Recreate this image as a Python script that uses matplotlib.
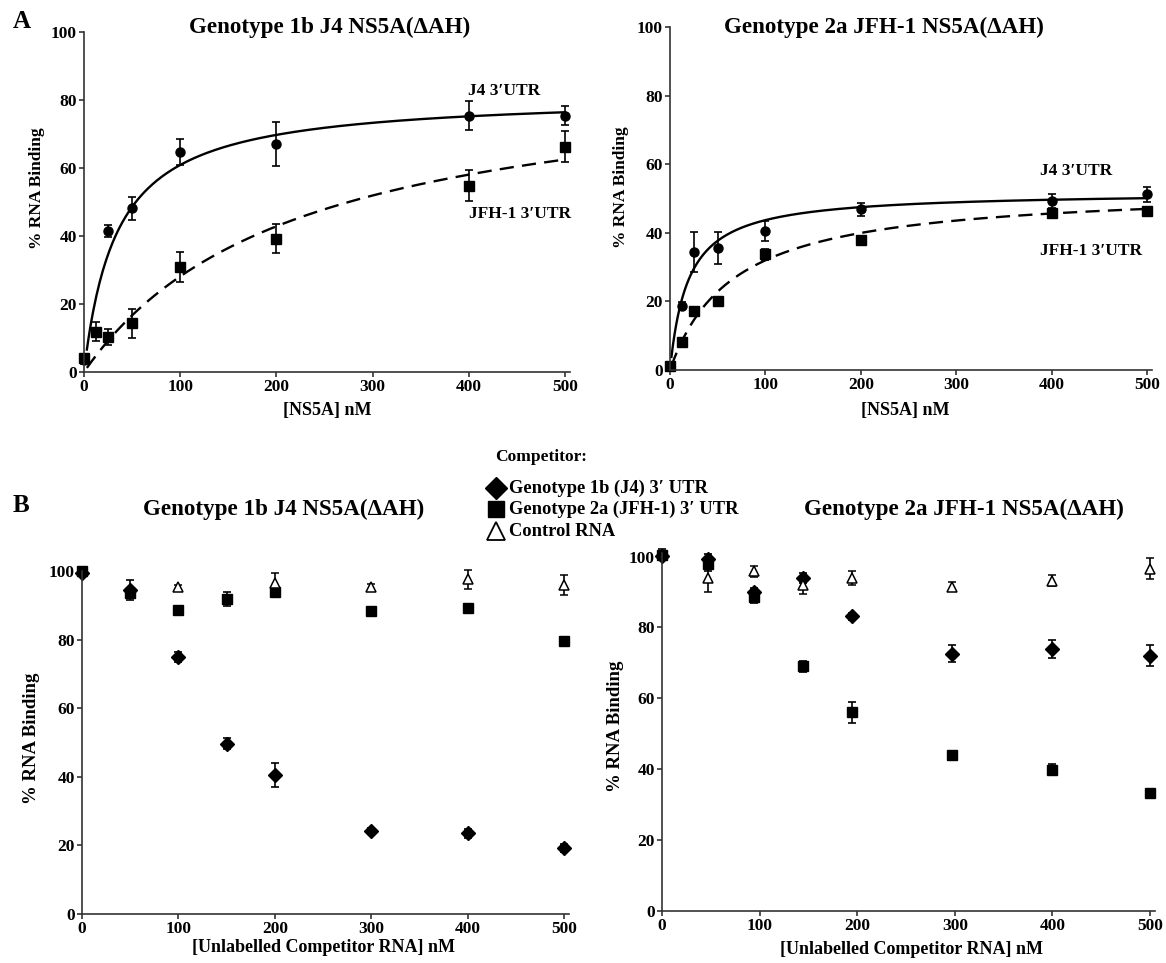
import numpy as np
import matplotlib
matplotlib.use("Agg")
import matplotlib.pyplot as plt

plt.rcParams['font.family'] = ['Liberation Serif', 'DejaVu Serif']
plt.rcParams['font.weight'] = 'bold'

W, H = 1166, 963

# ---- panel A: binding curves ----
a_title = ["Genotype 1b J4 NS5A(\u0394AH)", "Genotype 2a JFH-1 NS5A(\u0394AH)"]

# left: 1b J4 NS5A
aL_j4_x = [0, 25, 50, 100, 200, 400, 500]
aL_j4_y = [3.5, 41.5, 48.1, 64.7, 67.0, 75.4, 75.4]
aL_j4_e = [1.0, 1.7, 3.3, 3.7, 6.5, 4.3, 2.7]
aL_jfh_x = [0, 12.5, 25, 50, 100, 200, 400, 500]
aL_jfh_y = [4.0, 11.9, 10.2, 14.3, 30.9, 39.2, 54.8, 66.3]
aL_jfh_e = [1.0, 2.7, 2.4, 4.2, 4.5, 4.3, 4.5, 4.5]
aL_fit = {"j4": (81.6, 34.0), "jfh": (90.0, 220.0)}   # Bmax, Kd

# right: 2a JFH-1 NS5A
aR_j4_x = [0, 12.5, 25, 50, 100, 200, 400, 500]
aR_j4_y = [1.2, 18.7, 34.4, 35.6, 40.5, 46.8, 49.3, 51.2]
aR_j4_e = [0.8, 1.0, 5.7, 4.6, 3.0, 2.0, 2.0, 2.2]
aR_jfh_x = [0, 12.5, 25, 50, 100, 200, 400, 500]
aR_jfh_y = [1.2, 8.2, 17.1, 20.0, 33.7, 37.8, 45.9, 46.3]
aR_jfh_e = [0.5, 0.6, 1.0, 1.0, 1.5, 0.8, 1.0, 0.5]
aR_fit = {"j4": (52.0, 19.0), "jfh": (53.2, 66.3)}

# ---- panel B: competition ----
b_title = ["Genotype 1b J4 NS5A(\u0394AH)", "Genotype 2a JFH-1 NS5A(\u0394AH)"]
legend_labels = ["Genotype 1b (J4) 3\u2032 UTR", "Genotype 2a (JFH-1) 3\u2032 UTR", "Control RNA"]

bL_x = [0, 50, 100, 150, 200, 300, 400, 500]
bL_j4 = [99.5, 94.5, 74.9, 49.7, 40.4, 24.2, 23.5, 19.2]
bL_j4_e = [0.5, 3.0, 1.5, 1.5, 3.5, 1.0, 1.2, 1.2]
bL_jfh = [100.0, 93.7, 88.7, 91.8, 93.8, 88.2, 89.1, 79.7]
bL_jfh_e = [0.5, 1.0, 0.6, 2.0, 1.0, 1.0, 1.0, 1.2]
bL_ctl_x = [100, 200, 300, 400, 500]
bL_ctl = [95.2, 96.4, 95.3, 97.6, 95.9]
bL_ctl_e = [0.8, 3.0, 0.8, 2.8, 3.0]

bR_x = [0, 47, 94, 144, 195, 297, 399, 500]
bR_j4 = [100.2, 99.2, 90.1, 93.9, 83.1, 72.6, 73.9, 72.0]
bR_j4_e = [0.5, 1.5, 1.0, 1.5, 1.0, 2.4, 2.5, 3.0]
bR_jfh = [100.5, 97.9, 88.5, 69.0, 56.1, 43.9, 39.9, 33.3]
bR_jfh_e = [1.5, 2.0, 1.5, 1.5, 3.0, 1.0, 1.5, 1.0]
bR_ctl_x = [47, 94, 144, 195, 297, 399, 500]
bR_ctl = [93.9, 95.8, 92.0, 93.9, 91.5, 93.2, 96.6]
bR_ctl_e = [4.0, 1.5, 2.5, 2.0, 1.2, 1.5, 3.0]


def px_ax(fig, x0, y0, x1, y1):
    # pixel box (left, top, right, bottom) -> axes
    return fig.add_axes([x0 / W, 1 - y1 / H, (x1 - x0) / W, (y1 - y0) / H])


def style(ax, ylim):
    ax.set_xlim(0, 505)
    ax.set_ylim(*ylim)
    for s in ['top', 'right']:
        ax.spines[s].set_visible(False)
    for s in ['left', 'bottom']:
        ax.spines[s].set_color('#333333')
        ax.spines[s].set_linewidth(1.2)
    ax.set_xticks([0, 100, 200, 300, 400, 500])
    ax.set_yticks([0, 20, 40, 60, 80, 100])
    ax.tick_params(direction='out', length=3.5, width=1.2, color='#333333',
                   labelsize=12.5, pad=1.5)
    for lab in ax.get_xticklabels() + ax.get_yticklabels():
        lab.set_fontweight('bold')


def hyper(b, k, xs):
    return b * xs / (k + xs)


ebkw = dict(ecolor='black', elinewidth=1.2, capsize=3, capthick=1.2,
            linestyle='none', clip_on=False)

fig = plt.figure(figsize=(W / 100, H / 100), dpi=100)

# A left
ax = px_ax(fig, 84, 32, 570, 372)
style(ax, (0, 100))
xs = np.linspace(3, 500, 300)
ax.plot(xs, hyper(*aL_fit["j4"], xs), color='black', lw=1.7)
ax.plot(xs, hyper(*aL_fit["jfh"], xs), color='black', lw=1.7, linestyle=(0, (6, 3.5)))
ax.errorbar(aL_j4_x, aL_j4_y, yerr=aL_j4_e, marker='o', ms=6.5, mfc='black', mec='black', **ebkw)
ax.errorbar(aL_jfh_x, aL_jfh_y, yerr=aL_jfh_e, marker='s', ms=6.5, mfc='black', mec='black', **ebkw)
ax.text(399, 82.6, "J4 3\u2032UTR", fontsize=12.5, fontweight='bold', va='center')
ax.text(400, 46.6, "JFH-1 3\u2032UTR", fontsize=12.5, fontweight='bold', va='center', clip_on=False)

# A right
ax = px_ax(fig, 670, 27, 1152, 370)
style(ax, (0, 100))
xs = np.linspace(1.5, 500, 300)
ax.plot(xs, hyper(*aR_fit["j4"], xs), color='black', lw=1.7)
ax.plot(xs, hyper(*aR_fit["jfh"], xs), color='black', lw=1.7, linestyle=(0, (6, 3.5)))
ax.errorbar(aR_j4_x, aR_j4_y, yerr=aR_j4_e, marker='o', ms=6.5, mfc='black', mec='black', **ebkw)
ax.errorbar(aR_jfh_x, aR_jfh_y, yerr=aR_jfh_e, marker='s', ms=6.5, mfc='black', mec='black', **ebkw)
ax.text(388, 57.9, "J4 3\u2032UTR", fontsize=12.5, fontweight='bold', va='center')
ax.text(388, 34.8, "JFH-1 3\u2032UTR", fontsize=12.5, fontweight='bold', va='center')

# B left
ax = px_ax(fig, 82, 571, 569, 914)
style(ax, (0, 100))
ax.errorbar(bL_x, bL_jfh, yerr=bL_jfh_e, marker='s', ms=6.5, mfc='black', mec='black', **ebkw)
ax.errorbar(bL_x, bL_j4, yerr=bL_j4_e, marker='D', ms=7, mfc='black', mec='black', **ebkw)
ax.errorbar(bL_ctl_x, bL_ctl, yerr=bL_ctl_e, marker='^', ms=6.5, mfc='white', mec='black', mew=1.1, **ebkw)

# B right
ax = px_ax(fig, 662, 553, 1155, 911)
style(ax, (0, 101))
ax.errorbar(bR_x, bR_jfh, yerr=bR_jfh_e, marker='s', ms=6.5, mfc='black', mec='black', **ebkw)
ax.errorbar(bR_x, bR_j4, yerr=bR_j4_e, marker='D', ms=7, mfc='black', mec='black', **ebkw)
ax.errorbar(bR_ctl_x, bR_ctl, yerr=bR_ctl_e, marker='^', ms=6.5, mfc='white', mec='black', mew=1.1, **ebkw)


def ftext(x, y, s, **kw):
    fig.text(x / W, 1 - y / H, s, fontweight='bold', **kw)


# titles, labels
ftext(330, 27, a_title[0], fontsize=16.6, ha='center', va='center')
ftext(884, 27, a_title[1], fontsize=16.6, ha='center', va='center')
ftext(284, 509, b_title[0], fontsize=16.6, ha='center', va='center')
ftext(964, 509, b_title[1], fontsize=16.6, ha='center', va='center')
ftext(22, 22, "A", fontsize=18, ha='center', va='center')
ftext(21, 505, "B", fontsize=18, ha='center', va='center')

ftext(37, 188, "% RNA Binding", fontsize=12.5, rotation=90, ha='center', va='center')
ftext(621, 187, "% RNA Binding", fontsize=12.5, rotation=90, ha='center', va='center')
ftext(31, 738, "% RNA Binding", fontsize=13.5, rotation=90, ha='center', va='center')
ftext(616, 726, "% RNA Binding", fontsize=13.5, rotation=90, ha='center', va='center')
ftext(327, 411, "[NS5A] nM", fontsize=13, ha='center', va='center')
ftext(905, 411, "[NS5A] nM", fontsize=13, ha='center', va='center')
ftext(323, 947, "[Unlabelled Competitor RNA] nM", fontsize=13, ha='center', va='center')
ftext(912, 949, "[Unlabelled Competitor RNA] nM", fontsize=13, ha='center', va='center')

# competitor legend
ftext(541, 457, "Competitor:", fontsize=12.5, ha='center', va='center')
leg_y = [488, 509, 531]
leg_m = [dict(marker='D', ms=11.5, mfc='black', mec='black'),
         dict(marker='s', ms=12, mfc='black', mec='black'),
         dict(marker='^', ms=13, mfc='white', mec='black', mew=1.3)]
for yy, lab, mk in zip(leg_y, legend_labels, leg_m):
    fig.lines.append(plt.Line2D([496 / W], [1 - yy / H], transform=fig.transFigure,
                                linestyle='none', **mk))
    ftext(509, yy, lab, fontsize=13.3, ha='left', va='center')

fig.savefig("out.png", dpi=100)
